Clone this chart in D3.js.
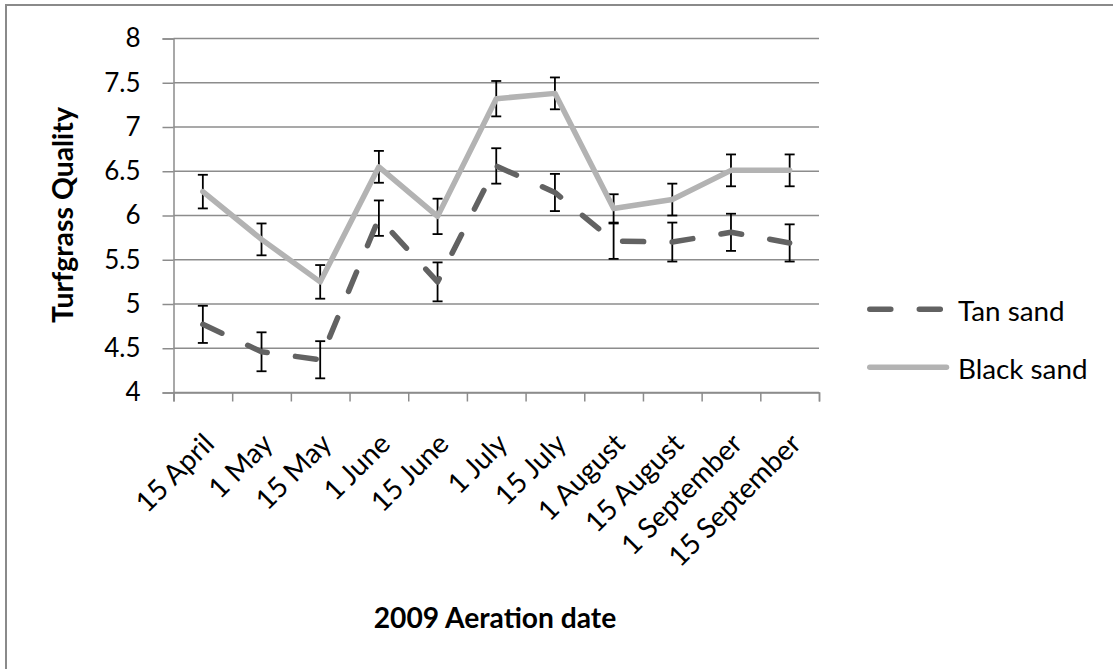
<!DOCTYPE html>
<html><head><meta charset="utf-8">
<script src="https://cdn.jsdelivr.net/npm/d3@7"></script>
<style>
body{margin:0;background:#fff}
svg{display:block;font-family:Lato, "Open Sans", sans-serif}
</style>
</head><body>
<svg id="chart" width="1113" height="669"></svg>
<script>
// Aeration dates (category axis)
const dates = ["15 April","1 May","15 May","1 June","15 June","1 July","15 July","1 August","15 August","1 September","15 September"];
// Mean turfgrass quality and standard error per date
const tanSand      = [4.77,4.46,4.37,5.97,5.25,6.56,6.26,5.71,5.70,5.81,5.69];
const tanSandErr   = [0.21,0.22,0.21,0.20,0.22,0.20,0.21,0.20,0.22,0.21,0.21];
const blackSand    = [6.27,5.73,5.25,6.55,5.99,7.32,7.38,6.08,6.18,6.51,6.51];
const blackSandErr = [0.19,0.18,0.19,0.18,0.20,0.20,0.18,0.16,0.18,0.18,0.18];
const yTicks = [4,4.5,5,5.5,6,6.5,7,7.5,8];
const seriesNames = ["Tan sand","Black sand"];

const svg = d3.select("#chart");
const W = 1113, H = 669;
const plot = {left:173.5, right:819, top:38.5, bottom:392.5};
const gridColor = "#8c8c8c";

// outer chart frame
svg.append("rect").attr("x",6).attr("y",5).attr("width",W+10).attr("height",H+10)
  .attr("fill","#fff").attr("stroke","#8a8a8a").attr("stroke-width",2);

const x = d3.scaleBand().domain(dates).range([plot.left, plot.right]).padding(0);
const xTick = d3.scaleLinear().domain([0, dates.length]).range([plot.left, plot.right]);
const y = d3.scaleLinear().domain([4,8]).range([plot.bottom, plot.top]);
const cx = d => x(d) + x.bandwidth()/2;

// horizontal gridlines
svg.append("g").selectAll("line").data(yTicks).join("line")
  .attr("x1",plot.left).attr("x2",plot.right)
  .attr("y1",d=>y(d)).attr("y2",d=>y(d))
  .attr("stroke",gridColor).attr("stroke-width",1.5);

// y axis
const yAxis = svg.append("g").attr("transform",`translate(${plot.left},0)`)
  .call(d3.axisLeft(y).tickValues(yTicks).tickSize(11).tickPadding(22)
        .tickFormat(d=>d3.format("")(d)));
yAxis.select(".domain").attr("stroke",gridColor).attr("stroke-width",1.5);
yAxis.selectAll(".tick line").attr("stroke",gridColor).attr("stroke-width",1.5);
yAxis.selectAll(".tick text").attr("font-size",26).attr("fill","#000")
  .attr("font-family","Lato, sans-serif");

// x axis with tick marks between categories
const xAxis = svg.append("g").attr("transform",`translate(0,${plot.bottom})`)
  .call(d3.axisBottom(xTick).tickValues(d3.range(dates.length+1)).tickSize(9).tickFormat(""));
xAxis.select(".domain").attr("stroke",gridColor).attr("stroke-width",1.5);
xAxis.selectAll(".tick line").attr("stroke",gridColor).attr("stroke-width",1.5);

// rotated category labels
svg.append("g").selectAll("text").data(dates).join("text")
  .attr("transform",d=>`translate(${cx(d)+13},${plot.bottom+53}) rotate(-45)`)
  .attr("text-anchor","end")
  .attr("font-size",28).attr("fill","#000")
  .text(d=>d);

// axis titles
svg.append("text").attr("x",495).attr("y",627.5).attr("text-anchor","middle")
  .attr("font-size",28.2).attr("font-weight","bold").text("2009 Aeration date");
svg.append("text").attr("transform","translate(73,215) rotate(-90)").attr("text-anchor","middle")
  .attr("font-size",28.4).attr("font-weight","bold").text("Turfgrass Quality");

const series = [
  {name:seriesNames[0], values:tanSand, err:tanSandErr, color:"#626262", dash:"21 28.5"},
  {name:seriesNames[1], values:blackSand, err:blackSandErr, color:"#b3b3b3", dash:null}
];

const line = d3.line().x((v,i)=>cx(dates[i])).y(v=>y(v));

series.forEach(s=>{
  const g = svg.append("g");
  // error bars
  const eb = g.append("g").selectAll("g").data(s.values).join("g");
  eb.append("line")
    .attr("x1",(v,i)=>cx(dates[i])).attr("x2",(v,i)=>cx(dates[i]))
    .attr("y1",(v,i)=>y(v+s.err[i])).attr("y2",(v,i)=>y(v-s.err[i]))
    .attr("stroke","#000").attr("stroke-width",1.8);
  [1,-1].forEach(sign=>{
    eb.append("line")
      .attr("x1",(v,i)=>cx(dates[i])-5).attr("x2",(v,i)=>cx(dates[i])+5)
      .attr("y1",(v,i)=>y(v+sign*s.err[i])).attr("y2",(v,i)=>y(v+sign*s.err[i]))
      .attr("stroke","#000").attr("stroke-width",1.8);
  });
  g.append("path").datum(s.values).attr("d",line)
    .attr("fill","none").attr("stroke",s.color).attr("stroke-width",5.5)
    .attr("stroke-linecap","round").attr("stroke-linejoin","round")
    .attr("stroke-dasharray",s.dash);
});

// legend
const legend = svg.append("g");
series.forEach((s,i)=>{
  const ly = 309.3 + i*58;
  legend.append("line").attr("x1",869.8).attr("x2",s.dash ? 941 : 946.5).attr("y1",ly).attr("y2",ly)
    .attr("stroke",s.color).attr("stroke-width",5.5).attr("stroke-linecap","round")
    .attr("stroke-dasharray",s.dash);
  legend.append("text").attr("x",958).attr("y",ly+12).attr("font-size",27.8)
    .attr("fill","#000").text(s.name);
});
</script>
</body></html>
